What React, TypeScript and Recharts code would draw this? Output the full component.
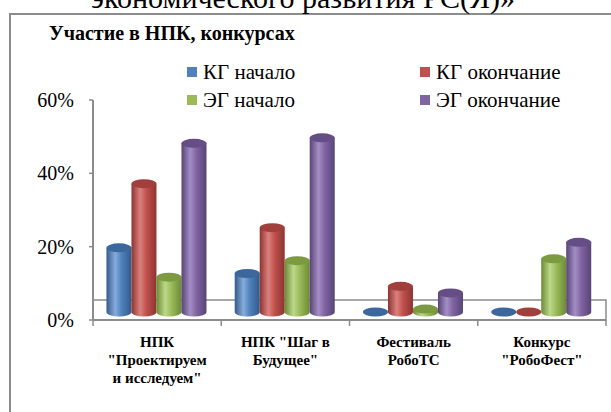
import React from 'react';
import { BarChart, Bar, XAxis, YAxis, Legend, ReferenceArea } from 'recharts';

// ---- data ----
const categoryLines: string[][] = [
  ['НПК', '"Проектируем', 'и исследуем"'],
  ['НПК "Шаг в', 'Будущее"'],
  ['Фестиваль', 'РобоТС'],
  ['Конкурс', '"РобоФест"'],
];
const categories = ['НПК "Проектируем и исследуем"', 'НПК "Шаг в Будущее"', 'Фестиваль РобоТС', 'Конкурс "РобоФест"'];
const kgStart = [17.5, 10.5, 0, 0];
const kgEnd = [35, 23, 7, 0];
const egStart = [9.5, 14, 0.8, 14.5];
const egEnd = [46, 47.5, 5.2, 19];
const seriesNames = ['КГ начало', 'КГ окончание', 'ЭГ начало', 'ЭГ окончание'];
const yTicks = [0, 20, 40, 60];
const chartTitle = 'Участие в НПК, конкурсах';
const headerText = 'экономического развития РС(Я)»';

// ---- styles ----
const W = 611;
const H = 412;
const SERIF = 'Liberation Serif';
const AXIS_GREY = '#8c8c8c';
const DEPTH = 8;
const FLOOR = 5.45;
const MARGIN = { top: 100, right: 5, bottom: 32, left: 33 };
const Y_W = 60;
const PLOT_W = W - MARGIN.left - MARGIN.right - Y_W;
const BAND = PLOT_W / categories.length;

const palette: Record<string, { base: string; dark: string; light: string; top: string }> = {
  blue: { base: '#4F81BD', dark: '#35598a', light: '#86acdc', top: '#3c679c' },
  red: { base: '#C0504D', dark: '#8c3431', light: '#dc807d', top: '#a03f3c' },
  green: { base: '#9BBB59', dark: '#6c8a35', light: '#bcd88a', top: '#7c9a42' },
  purple: { base: '#8064A2', dark: '#574475', light: '#a48ec4', top: '#654e86' },
};
const seriesKeys = ['kgStart', 'kgEnd', 'egStart', 'egEnd'];
const seriesColors = ['blue', 'red', 'green', 'purple'];

const data = categories.map((name, i) => ({
  name,
  kgStart: kgStart[i],
  kgEnd: kgEnd[i],
  egStart: egStart[i],
  egEnd: egEnd[i],
}));

function Cylinder(props: any) {
  const { x, y, width, height, colorKey } = props;
  if (x == null || y == null) return null;
  const c = palette[colorKey];
  const rx = width / 2;
  const ry = 4.5;
  const top = y - DEPTH;
  const bottom = y + (height || 0) - DEPTH;
  const h = bottom - top;
  return (
    <g>
      {h > 0.5 && (
        <path
          d={`M${x},${top} L${x},${bottom} A${rx},${ry} 0 0 0 ${x + width},${bottom} L${x + width},${top} Z`}
          fill={`url(#grad-${colorKey})`}
        />
      )}
      <ellipse cx={x + rx} cy={top} rx={rx} ry={ry} fill={c.top} />
    </g>
  );
}

function CategoryTick(props: any) {
  const { x, y, payload, index } = props;
  const idx = payload && payload.index != null ? payload.index : index;
  const lines = categoryLines[idx] || [];
  const last = idx === categories.length - 1;
  return (
    <g>
      <line x1={x - BAND / 2} x2={x - BAND / 2} y1={y} y2={y + 6} stroke={AXIS_GREY} strokeWidth={1.5} />
      {last && <line x1={x + BAND / 2} x2={x + BAND / 2} y1={y} y2={y + 6} stroke={AXIS_GREY} strokeWidth={1.5} />}
      <text x={x} y={y + 27} textAnchor="middle" style={{ fontFamily: SERIF }} fontWeight="bold" fontSize={15} fill="#000">
        {lines.map((l, i) => (
          <tspan key={i} x={x} dy={i === 0 ? 0 : 18}>
            {l}
          </tspan>
        ))}
      </text>
    </g>
  );
}

function YTick(props: any) {
  const { x, y, payload } = props;
  return (
    <text x={x} y={y} dy={7} textAnchor="end" style={{ fontFamily: SERIF }} fontSize={20} fill="#000">
      {`${payload.value}%`}
    </text>
  );
}

function LegendContent() {
  return (
    <div
      style={{
        display: 'grid',
        gridTemplateColumns: '233px 200px',
        rowGap: 6,
        fontFamily: SERIF,
        fontSize: 21,
        color: '#000',
        lineHeight: '22px',
      }}
    >
      {seriesNames.map((n, i) => (
        <div key={n} style={{ display: 'flex', alignItems: 'center', whiteSpace: 'nowrap', fontFamily: SERIF }}>
          <span
            style={{
              display: 'inline-block',
              width: 10,
              height: 10,
              background: palette[seriesColors[i]].base,
              marginRight: 6,
            }}
          />
          {n}
        </div>
      ))}
    </div>
  );
}

export default function App() {
  return (
    <div style={{ position: 'fixed', left: 0, top: 0, width: W, height: H, overflow: 'hidden', background: '#fff', fontFamily: SERIF }}>
      <div
        style={{
          position: 'absolute',
          left: 9,
          top: 13,
          width: 700,
          height: 500,
          border: `2px solid ${AXIS_GREY}`,
          boxSizing: 'border-box',
        }}
      />
      <div
        style={{
          position: 'absolute',
          left: 91,
          top: -22,
          fontSize: 30,
          lineHeight: '40px',
          whiteSpace: 'nowrap',
          color: '#000',
        }}
      >
        {headerText}
      </div>
      <div
        style={{
          position: 'absolute',
          left: 49,
          top: 21,
          fontSize: 20,
          fontWeight: 'bold',
          lineHeight: '24px',
          whiteSpace: 'nowrap',
          color: '#000',
        }}
      >
        {chartTitle}
      </div>
      <div style={{ position: 'absolute', left: 0, top: 0 }}>
        <BarChart
          width={W}
          height={H}
          data={data}
          margin={MARGIN}
          barCategoryGap="10.5%"
          barGap={0}
          style={{ fontFamily: SERIF }}
        >
          <defs>
            {Object.keys(palette).map((k) => (
              <linearGradient key={k} id={`grad-${k}`} x1="0" y1="0" x2="1" y2="0">
                <stop offset="0%" stopColor={palette[k].dark} />
                <stop offset="35%" stopColor={palette[k].light} />
                <stop offset="60%" stopColor={palette[k].base} />
                <stop offset="100%" stopColor={palette[k].dark} />
              </linearGradient>
            ))}
          </defs>
          <ReferenceArea y1={0} y2={FLOOR} fill="none" stroke={AXIS_GREY} strokeWidth={1.5} ifOverflow="visible" />
          <XAxis
            dataKey="name"
            height={60}
            tickSize={0}
            tickMargin={0}
            tickLine={false}
            axisLine={{ stroke: AXIS_GREY, strokeWidth: 2 }}
            tick={<CategoryTick />}
            interval={0}
          />
          <YAxis
            width={Y_W}
            domain={[0, 60]}
            ticks={yTicks}
            axisLine={{ stroke: AXIS_GREY, strokeWidth: 2 }}
            tickLine={{ stroke: AXIS_GREY, strokeWidth: 1.5 }}
            tickSize={4}
            tickMargin={15}
            tick={<YTick />}
          />
          <Legend
            layout="horizontal"
            verticalAlign="middle"
            align="center"
            content={<LegendContent />}
            wrapperStyle={{ position: 'absolute', left: 187, top: 61, width: 440 }}
          />
          {seriesKeys.map((k, i) => (
            <Bar
              key={k}
              dataKey={k}
              name={seriesNames[i]}
              fill={palette[seriesColors[i]].base}
              isAnimationActive={false}
              shape={(p: any) => <Cylinder {...p} colorKey={seriesColors[i]} />}
            />
          ))}
        </BarChart>
      </div>
    </div>
  );
}
